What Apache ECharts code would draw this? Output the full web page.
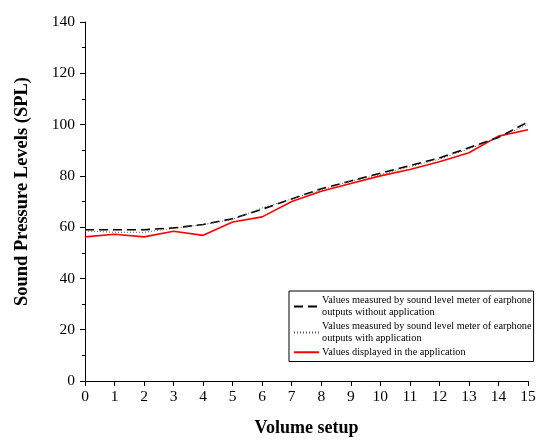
<!DOCTYPE html>
<html><head><meta charset="utf-8">
<script src="https://cdn.jsdelivr.net/npm/echarts@6/dist/echarts.min.js"></script>
<style>html,body{margin:0;padding:0;background:#fff}#c{width:543px;height:442px}</style>
</head><body><div id="c"></div>
<script>
var categories = [0,1,2,3,4,5,6,7,8,9,10,11,12,13,14,15];
var withoutApp = [59,59,59,59.7,61,63.3,67,71,75,78,81,84,87,91,95,101];
var withApp = [58.5,58,58,59.5,61,63,67.5,71,74.5,78,80.5,83.5,86.5,90.5,95,100];
var displayed = [56.2,57.2,56.2,58.4,56.8,62,64,70,74,77,80,82.5,85.5,89,95.5,98];
var seriesNames = [
  'Values measured by sound level meter of earphone\noutputs without application',
  'Values measured by sound level meter of earphone\noutputs with application',
  'Values displayed in the application'
];
var font = 'Liberation Serif';
var chart = echarts.init(document.getElementById('c'));
chart.setOption({
  animation: false,
  backgroundColor: '#fff',
  grid: {left: 85, right: 15, top: 22, bottom: 59, containLabel: false},
  xAxis: {
    type: 'value', min: 0, max: 15, interval: 1,
    name: 'Volume setup', nameLocation: 'middle', nameGap: 38,
    nameTextStyle: {fontFamily: font, fontWeight: 'bold', fontSize: 18, color: '#000'},
    axisLine: {show: true, onZero: false, lineStyle: {color: '#000', width: 1}},
    axisTick: {show: true, length: 5, lineStyle: {color: '#000'}},
    axisLabel: {fontFamily: font, fontSize: 15.5, color: '#000', margin: 8},
    splitLine: {show: false}
  },
  yAxis: {
    type: 'value', min: 0, max: 140, interval: 20,
    name: 'Sound Pressure Levels (SPL)', nameLocation: 'middle', nameGap: 53,
    nameTextStyle: {fontFamily: font, fontWeight: 'bold', fontSize: 18.5, color: '#000', padding: [0, 0, 0, 20]},
    axisLine: {show: true, lineStyle: {color: '#000', width: 1}},
    axisTick: {show: true, length: 5, lineStyle: {color: '#000'}},
    minorTick: {show: true, splitNumber: 2, length: 3, lineStyle: {color: '#000'}},
    axisLabel: {fontFamily: font, fontSize: 15.5, color: '#000', margin: 10},
    splitLine: {show: false}
  },
  legend: {
    orient: 'vertical', left: 289, top: 291,
    padding: [3, 2, 3, 4], itemGap: 1, itemWidth: 25, itemHeight: 10,
    borderColor: '#000', borderWidth: 1, backgroundColor: '#fff',
    itemStyle: {opacity: 0},
    textStyle: {fontFamily: font, fontSize: 10.3, lineHeight: 12.5, color: '#000', padding: [0, 0, 0, -2]},
    data: seriesNames
  },
  series: [
    {name: seriesNames[0], type: 'line', symbol: 'none', z: 3,
     data: categories.map(function(x,i){return [x, withoutApp[i]];}),
     lineStyle: {color: '#000', width: 1.6, type: [9, 5]}, itemStyle: {color: '#000'}},
    {name: seriesNames[1], type: 'line', symbol: 'none', z: 4,
     data: categories.map(function(x,i){return [x, withApp[i]];}),
     lineStyle: {color: '#555', width: 1, type: [1, 2]}, itemStyle: {color: '#555'}},
    {name: seriesNames[2], type: 'line', symbol: 'none', z: 2,
     data: categories.map(function(x,i){return [x, displayed[i]];}),
     lineStyle: {color: '#ff0000', width: 1.6}, itemStyle: {color: '#ff0000'}}
  ]
});
</script></body></html>
